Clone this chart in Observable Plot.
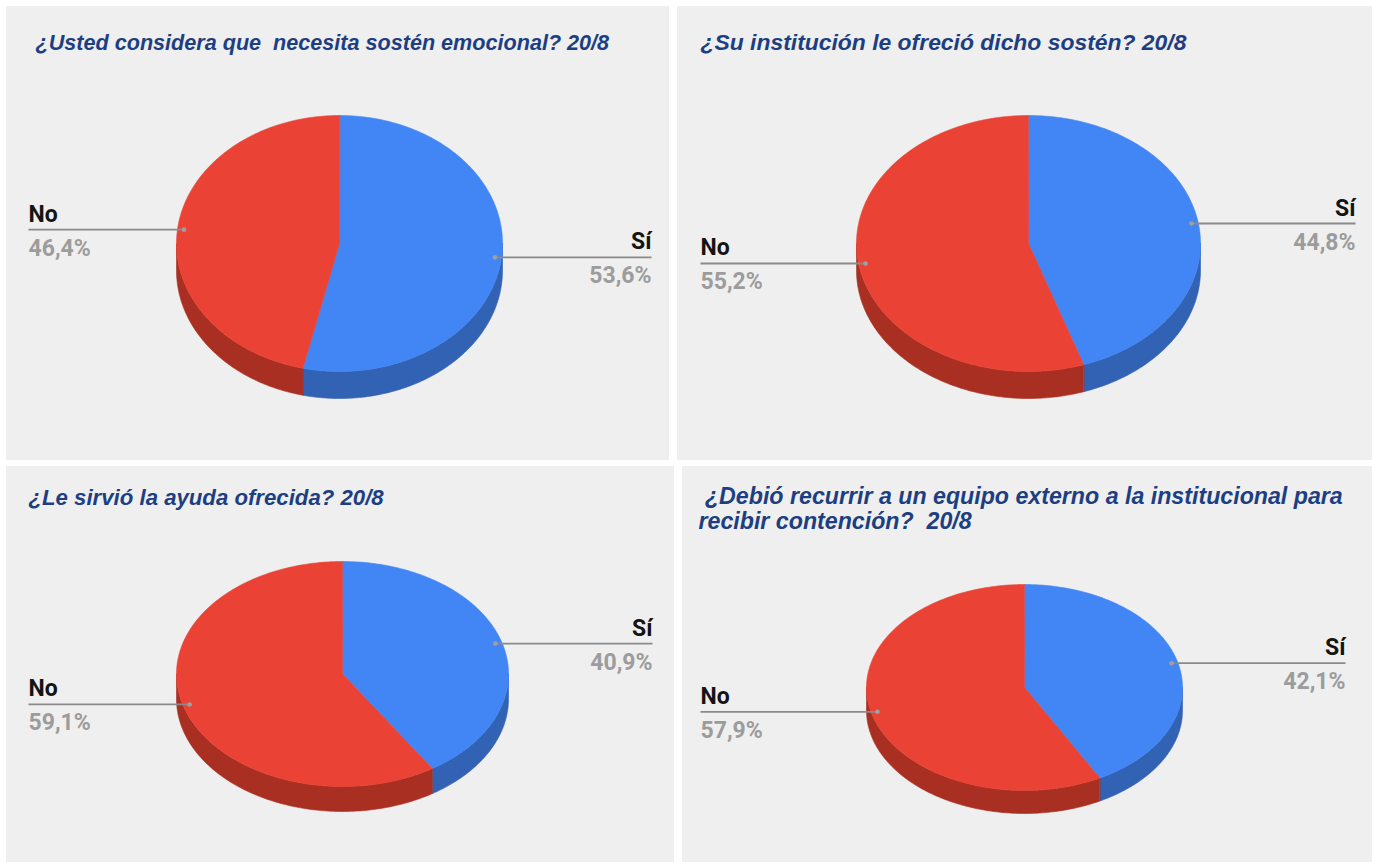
<!DOCTYPE html>
<html>
<head>
<meta charset="utf-8">
<script src="https://cdn.jsdelivr.net/npm/d3@7"></script>
<script src="https://cdn.jsdelivr.net/npm/@observablehq/plot@0.6"></script>
<style>
  html, body { margin: 0; padding: 0; background: #ffffff; }
  #wrap { position: relative; width: 1377px; height: 865px; overflow: hidden; background: #ffffff; }
  .panel { position: absolute; background: #efefef; }
  .panel svg { display: block; }
</style>
</head>
<body>
<div id="wrap"></div>
<script>
// ---- data ----
const questions = [
  "¿Usted considera que  necesita sostén emocional? 20/8",
  "¿Su institución le ofreció dicho sostén? 20/8",
  "¿Le sirvió la ayuda ofrecida? 20/8",
  " ¿Debió recurrir a un equipo externo a la institucional para\nrecibir contención?  20/8"
];
const categories = ["Sí", "No"];
const siPct = [53.6, 44.8, 40.9, 42.1];
const noPct = [46.4, 55.2, 59.1, 57.9];

// ---- styles ----
const topColors = ["#4285f4", "#ea4335"];
const sideColors = ["#3162b4", "#a92f22"];

// ---- layout (pixel geometry of each panel) ----
const panels = [
  {left: 6,   top: 6,   w: 663, h: 454, cx: 333, cy: 237,   rx: 163, ry: 128,   depth: 27, titleX: 29, titleY: 43, titleSize: 21.6, leftX: 22, rightX: 645},
  {left: 677, top: 6,   w: 695, h: 454, cx: 351, cy: 237,   rx: 172, ry: 128,   depth: 27, titleX: 23, titleY: 43, titleSize: 22.9, leftX: 23, rightX: 678},
  {left: 6,   top: 466, w: 668, h: 396, cx: 336, cy: 207.5, rx: 166, ry: 112.5, depth: 25, titleX: 22, titleY: 38, titleSize: 22.2, leftX: 22, rightX: 646},
  {left: 682, top: 466, w: 690, h: 396, cx: 342, cy: 221,   rx: 158, ry: 103,   depth: 23, titleX: 16, titleY: 62, titleSize: 23.2, leftX: 18, rightX: 663}
];

const fmtPct = v => v.toFixed(1).replace(".", ",") + "%";
const wrap = document.getElementById("wrap");

panels.forEach((p, i) => {
  const values = [siPct[i], noPct[i]];
  const total = d3.sum(values);
  let acc = 0;
  const slices = values.map((v, k) => {
    const a0 = acc, a1 = acc + v / total * 360;
    acc = a1;
    return {k, cat: categories[k], v, a0, a1, mid: (a0 + a1) / 2};
  });

  const pt = (deg, f = 1, dz = 0) => {
    const t = deg * Math.PI / 180;
    return {x: p.cx + f * p.rx * Math.sin(t), y: p.cy - f * p.ry * Math.cos(t) + dz};
  };
  const arc = (a, b, dz) => {
    const n = Math.max(2, Math.ceil(Math.abs(b - a)));
    return d3.range(n + 1).map(j => pt(a + (b - a) * j / n, 1, dz));
  };

  const marks = [];
  // side walls (front half only)
  slices.forEach(s => {
    const a = Math.max(s.a0, 90), b = Math.min(s.a1, 270);
    if (b > a) {
      const ring = [...arc(a, b, 0), ...arc(b, a, p.depth)];
      marks.push(Plot.line(ring, {x: "x", y: "y", curve: "linear-closed",
        fill: sideColors[s.k], stroke: sideColors[s.k], strokeWidth: 0.6}));
    }
  });
  // top faces
  slices.forEach(s => {
    const ring = [{x: p.cx, y: p.cy}, ...arc(s.a0, s.a1, 0)];
    marks.push(Plot.line(ring, {x: "x", y: "y", curve: "linear-closed",
      fill: topColors[s.k], stroke: topColors[s.k], strokeWidth: 0.6}));
  });

  // labels
  const labels = slices.map(s => {
    const q = pt(s.mid, 0.96);
    const right = q.x > p.cx;
    return {cat: s.cat, pct: fmtPct(s.v), px: q.x, py: q.y, lx: right ? p.rightX : p.leftX, right};
  });
  marks.push(
    Plot.link(labels, {x1: "lx", x2: "px", y1: "py", y2: "py", stroke: "#8a8a8a", strokeWidth: 1.8}),
    Plot.dot(labels, {x: "px", y: "py", r: 2.3, fill: "#a0a0a0", stroke: "none"})
  );
  for (const side of [false, true]) {
    const L = labels.filter(d => d.right === side);
    const anchor = side ? "end" : "start";
    marks.push(
      Plot.text(L, {x: "lx", y: d => d.py - 8, text: "cat", textAnchor: anchor, lineAnchor: "bottom",
        fontFamily: "Roboto, 'Liberation Sans', sans-serif", fontSize: 23, fontWeight: "bold", fill: "#141414"}),
      Plot.text(L, {x: "lx", y: d => d.py + 26, text: "pct", textAnchor: anchor, lineAnchor: "bottom",
        fontFamily: "Roboto, 'Liberation Sans', sans-serif", fontSize: 23, fontWeight: "bold", fill: "#9c9c9c"})
    );
  }

  // title
  marks.push(Plot.text([questions[i]], {x: p.titleX, y: p.titleY, text: d => d, textAnchor: "start",
    lineAnchor: "bottom", lineHeight: 25 / p.titleSize, fontFamily: "'Liberation Sans', Arial, sans-serif",
    fontSize: p.titleSize, fontWeight: "bold", fontStyle: "italic", fill: "#1d3f82"}));

  const svg = Plot.plot({
    width: p.w, height: p.h, margin: 0,
    x: {domain: [0, p.w], range: [0, p.w], axis: null},
    y: {domain: [0, p.h], range: [0, p.h], axis: null},
    style: {background: "transparent", overflow: "visible"},
    marks
  });

  const div = document.createElement("div");
  div.className = "panel";
  div.style.left = p.left + "px";
  div.style.top = p.top + "px";
  div.style.width = p.w + "px";
  div.style.height = p.h + "px";
  div.appendChild(svg);
  wrap.appendChild(div);
});
</script>
</body>
</html>
